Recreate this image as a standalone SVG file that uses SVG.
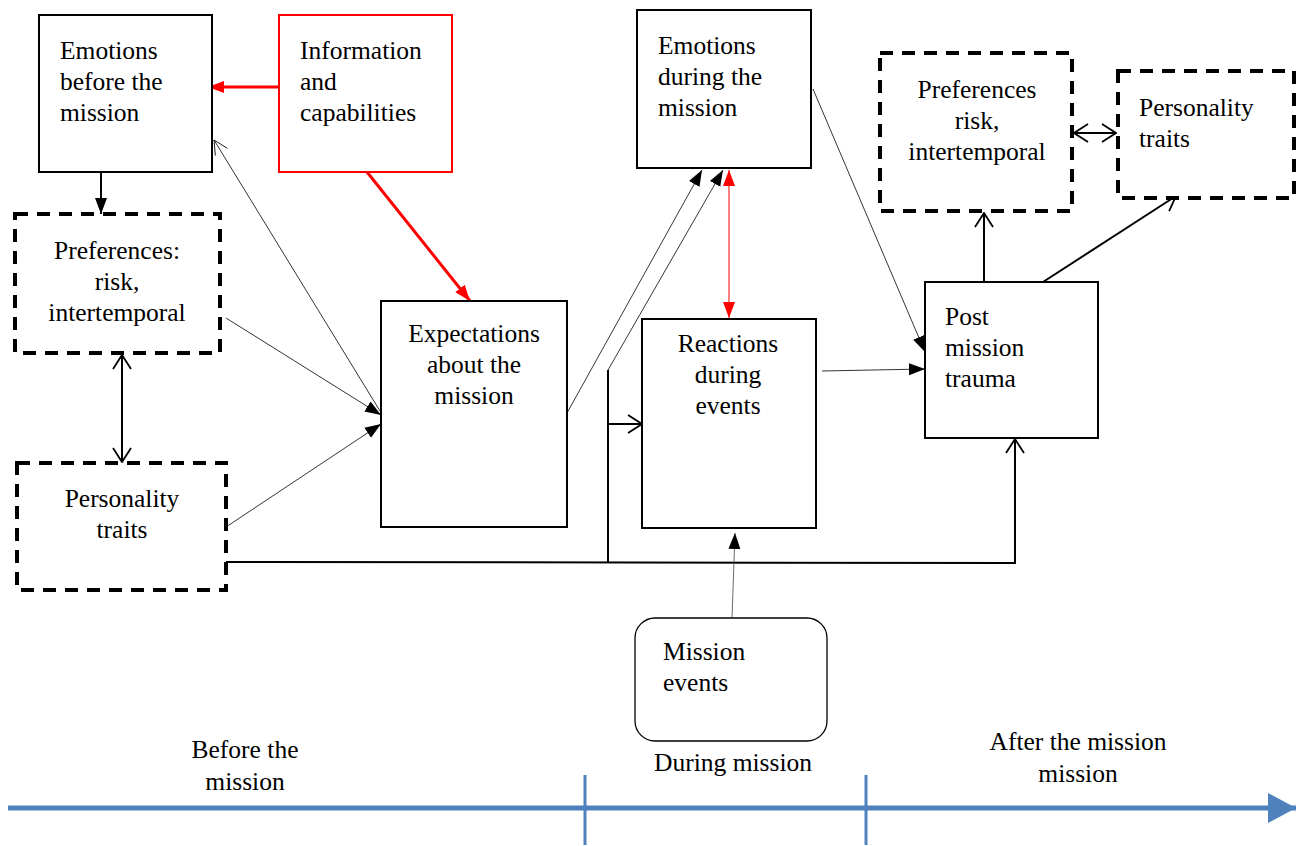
<svg xmlns="http://www.w3.org/2000/svg" width="1301" height="846" viewBox="0 0 1301 846">
<style>
  text { font-family: "Liberation Serif", "Times New Roman", serif; font-size: 25.5px; fill: #000; }
  .c { text-anchor: middle; }
  .box { fill: #fff; stroke: #000; stroke-width: 2; }
  .red { fill: #fff; stroke: #ff0000; stroke-width: 2; }
  .dash { fill: #fff; stroke: #000; stroke-width: 4; stroke-dasharray: 13 9; }
  .ln { fill: none; stroke: #000; stroke-width: 2; }
  .thin { fill: none; stroke: #000; stroke-width: 0.8; }
  .rl { fill: none; stroke: #ff0000; stroke-width: 3; }
  .blue { fill: none; stroke: #4f81bd; stroke-width: 5; }
</style>
<defs>
  <marker id="fill" markerUnits="userSpaceOnUse" markerWidth="17" markerHeight="14" refX="16" refY="7" orient="auto-start-reverse">
    <path d="M0,1 L16,7 L0,13 z" fill="#000"/>
  </marker>
  <marker id="open" markerUnits="userSpaceOnUse" markerWidth="16" markerHeight="20" refX="15" refY="10" orient="auto-start-reverse">
    <path d="M1,1 L15,10 L1,19" fill="none" stroke="#000" stroke-width="1.8"/>
  </marker>
  <marker id="openThin" markerUnits="userSpaceOnUse" markerWidth="16" markerHeight="20" refX="15" refY="10" orient="auto-start-reverse">
    <path d="M1,3 L15,10 L1,17" fill="none" stroke="#000" stroke-width="0.8"/>
  </marker>
  <marker id="redfill" markerUnits="userSpaceOnUse" markerWidth="17" markerHeight="14" refX="16" refY="7" orient="auto-start-reverse">
    <path d="M0,1 L16,7 L0,13 z" fill="#ff0000"/>
  </marker>
  <marker id="bluehead" markerUnits="userSpaceOnUse" markerWidth="30" markerHeight="32" refX="28" refY="16" orient="auto">
    <path d="M0,1 L28,16 L0,31 z" fill="#4f81bd"/>
  </marker>
</defs>

<g id="connectors">
  <line class="rl" x1="279" y1="87" x2="208" y2="87" marker-end="url(#redfill)"/>
  <line class="rl" x1="367" y1="172" x2="470" y2="301" marker-end="url(#redfill)"/>
  <line class="ln" x1="101" y1="170" x2="101" y2="214" stroke-width="2.5" marker-end="url(#fill)"/>
  <line class="ln" x1="122" y1="355" x2="122" y2="462" stroke-width="1.8" marker-start="url(#open)" marker-end="url(#open)"/>
  <line class="thin" x1="226" y1="318" x2="381" y2="415" marker-end="url(#fill)"/>
  <line class="thin" x1="226" y1="527" x2="381" y2="424" marker-end="url(#fill)"/>
  <line class="thin" x1="380" y1="411" x2="214" y2="140" marker-end="url(#openThin)"/>
  <line class="thin" x1="567" y1="413" x2="702" y2="170" marker-end="url(#fill)"/>
  <polyline class="thin" points="608,370 723,170" marker-end="url(#fill)"/>
  <line class="ln" x1="608" y1="370" x2="608" y2="563"/>
  <line class="ln" x1="608" y1="424" x2="642" y2="424" marker-end="url(#open)"/>
  <polyline class="ln" points="226,562 1015,563 1015,439" marker-end="url(#open)"/>
  <line x1="729" y1="170" x2="729" y2="318" stroke="#ff0000" stroke-width="1" marker-start="url(#redfill)" marker-end="url(#redfill)"/>
  <line class="thin" x1="813" y1="89" x2="925" y2="352" marker-end="url(#fill)"/>
  <line class="thin" x1="822" y1="371" x2="925" y2="369" marker-end="url(#fill)"/>
  <line x1="732" y1="618" x2="735" y2="533" stroke="#444" stroke-width="0.8" marker-end="url(#fill)"/>
  <line class="ln" x1="984" y1="282" x2="984" y2="213" marker-end="url(#open)"/>
  <line class="ln" x1="1043" y1="282" x2="1176" y2="196" marker-end="url(#open)"/>
  <line class="ln" x1="1074" y1="133" x2="1116" y2="133" stroke-width="1.8" marker-start="url(#open)" marker-end="url(#open)"/>
</g>

<g id="emotions-before">
  <rect class="box" x="39" y="15" width="173" height="157"/>
  <text x="60" y="59">Emotions</text>
  <text x="60" y="90">before the</text>
  <text x="60" y="121">mission</text>
</g>
<g id="information">
  <rect class="red" x="279" y="15" width="173" height="157"/>
  <text x="300" y="59">Information</text>
  <text x="300" y="90">and</text>
  <text x="300" y="121">capabilities</text>
</g>
<g id="preferences-left">
  <rect class="dash" x="15" y="214" width="205" height="139"/>
  <text class="c" x="117" y="259">Preferences:</text>
  <text class="c" x="117" y="290">risk,</text>
  <text class="c" x="117" y="321">intertemporal</text>
</g>
<g id="personality-left">
  <rect class="dash" x="17" y="463" width="209" height="127"/>
  <text class="c" x="122" y="507">Personality</text>
  <text class="c" x="122" y="538">traits</text>
</g>
<g id="expectations">
  <rect class="box" x="381" y="301" width="186" height="226"/>
  <text class="c" x="474" y="342">Expectations</text>
  <text class="c" x="474" y="373">about the</text>
  <text class="c" x="474" y="404">mission</text>
</g>
<g id="emotions-during">
  <rect class="box" x="637" y="10" width="174" height="158"/>
  <text x="658" y="54">Emotions</text>
  <text x="658" y="85">during the</text>
  <text x="658" y="116">mission</text>
</g>
<g id="reactions">
  <rect class="box" x="642" y="319" width="174" height="209"/>
  <text class="c" x="728" y="352">Reactions</text>
  <text class="c" x="728" y="383">during</text>
  <text class="c" x="728" y="414">events</text>
</g>
<g id="post-mission">
  <rect class="box" x="925" y="282" width="173" height="156"/>
  <text x="945" y="325">Post</text>
  <text x="945" y="356">mission</text>
  <text x="945" y="387">trauma</text>
</g>
<g id="preferences-right">
  <rect class="dash" x="880" y="53" width="192" height="158"/>
  <text class="c" x="977" y="98">Preferences</text>
  <text class="c" x="977" y="129">risk,</text>
  <text class="c" x="977" y="160">intertemporal</text>
</g>
<g id="personality-right">
  <rect class="dash" x="1118" y="71" width="176" height="127"/>
  <text x="1139" y="116">Personality</text>
  <text x="1139" y="147">traits</text>
</g>
<g id="mission-events">
  <rect x="635" y="618" width="192" height="123" rx="20" ry="20" fill="#fff" stroke="#000" stroke-width="1.3"/>
  <text x="663" y="660">Mission</text>
  <text x="663" y="691">events</text>
</g>

<g id="timeline">
  <line class="blue" x1="8" y1="808" x2="1296" y2="808" marker-end="url(#bluehead)"/>
  <line x1="585" y1="775" x2="585" y2="845" stroke="#4f81bd" stroke-width="3"/>
  <line x1="866" y1="775" x2="866" y2="845" stroke="#4f81bd" stroke-width="3"/>
  <text class="c" x="245" y="758">Before the</text>
  <text class="c" x="245" y="790">mission</text>
  <text class="c" x="733" y="771">During mission</text>
  <text class="c" x="1078" y="750">After the mission</text>
  <text class="c" x="1078" y="782">mission</text>
</g>
</svg>
